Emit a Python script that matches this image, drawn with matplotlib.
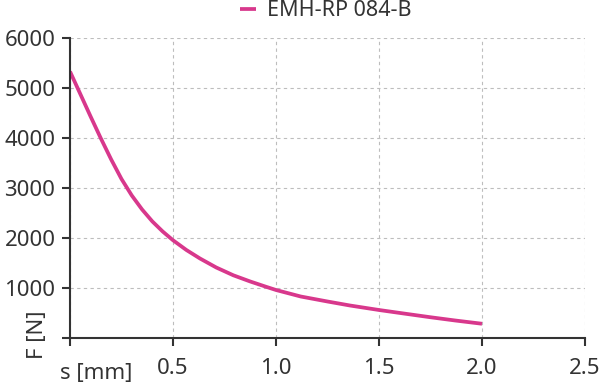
import matplotlib.pyplot as plt

plt.rcParams['font.family'] = ['Noto Sans', 'DejaVu Sans']

# values
s_mm = [0.0, 0.05, 0.10, 0.15, 0.20, 0.25, 0.30, 0.35, 0.40, 0.45,
        0.50, 0.565, 0.631, 0.71, 0.793, 0.875, 0.955, 1.0, 1.12, 1.25,
        1.359, 1.5, 1.62, 1.75, 1.87, 2.0]
force_n = [5330, 4880, 4430, 3990, 3570, 3180, 2850, 2570, 2330, 2130,
           1955, 1760, 1590, 1410, 1254, 1130, 1020, 960, 830, 730,
           650, 560, 490, 415, 350, 285]
series_name = "EMH-RP 084-B"

x_ticks = [0.0, 0.5, 1.0, 1.5, 2.0, 2.5]
x_labels = ["", "0.5", "1.0", "1.5", "2.0", "2.5"]
y_ticks = [0, 1000, 2000, 3000, 4000, 5000, 6000]
y_labels = ["", "1000", "2000", "3000", "4000", "5000", "6000"]

pink = "#d8388c"
dark = "#333333"

fig = plt.figure(figsize=(6, 3.83), dpi=100)
ax = fig.add_axes([70 / 600, 1 - 338 / 383, 515 / 600, 300 / 383])

ax.plot(s_mm, force_n, color=pink, lw=2.7, label=series_name,
        solid_capstyle="butt", solid_joinstyle="round")

ax.set_xlim(0, 2.5)
ax.set_ylim(0, 6000)
ax.set_xticks(x_ticks)
ax.set_xticklabels(x_labels)
ax.set_yticks(y_ticks)
ax.set_yticklabels(y_labels)

ax.grid(True, color="#bdbdbd", lw=0.8, ls=(0, (3, 3)))
ax.set_axisbelow(True)
for side in ["top", "right"]:
    ax.spines[side].set_visible(False)
for side in ["left", "bottom"]:
    ax.spines[side].set_color(dark)
    ax.spines[side].set_linewidth(1.5)
ax.tick_params(direction="out", length=5.5, width=1.5, color=dark,
               labelcolor=dark, labelsize=16)
ax.tick_params(axis="x", pad=9)
ax.tick_params(axis="y", pad=5)

# axis names sit where the zero labels would be
fig.text(60 / 600, 1 - 373 / 383, "s [mm]", fontsize=16, color=dark,
         ha="left", va="center")
fig.text(37 / 600, 1 - 335 / 383, "F [N]", fontsize=16, color=dark,
         ha="center", va="center", rotation=90)

fig.legend(loc="center", bbox_to_anchor=(0.543, 1 - 11 / 383), frameon=False,
           fontsize=15.5, handlelength=0.75, handletextpad=0.5, labelcolor=dark)

fig.savefig("out.png", dpi=100)
